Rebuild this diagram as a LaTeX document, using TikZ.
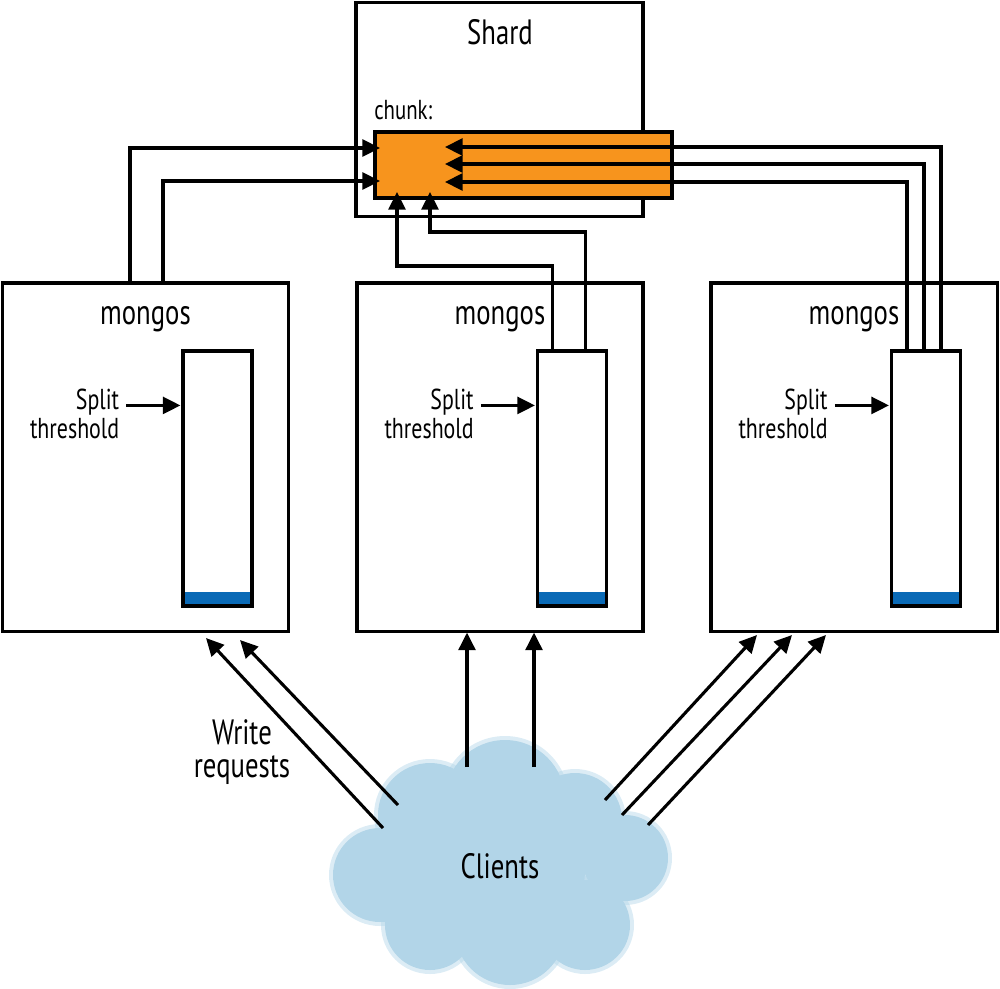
\documentclass[tikz,border=0pt]{standalone}
\usepackage{fontspec}
\setmainfont{PT Sans}[FakeStretch=0.76]
\usetikzlibrary{positioning,calc,arrows.meta}
\definecolor{chunkorange}{HTML}{F7941D}
\definecolor{fillblue}{HTML}{0A6AB6}
\definecolor{cloudblue}{HTML}{B2D5E8}
\tikzset{
	box/.style={draw, line width=2.2pt, fill=white, inner sep=0pt},
	conn/.style={line width=2.2pt},
	arr/.style={conn, -{Triangle[length=12.5pt,width=12pt]}},
	big/.style={font=\fontsize{25}{23}\selectfont, inner sep=0pt, align=center},
	small/.style={font=\fontsize{20.5}{20.5}\selectfont, inner sep=0pt, align=right},
}

\begin{document}
\begin{tikzpicture}[x=0.025cm, y=-0.025cm]
	\useasboundingbox (0,0) rectangle (1000,988);

	% shard with its chunk
	\node[box, minimum width=7.175cm, minimum height=5.35cm] (shard) at (499.5,109.5) {};
	\node[big] (shardlbl) at (500,32) {Shard};
	\node[small, anchor=west, font=\fontsize{19.5}{20}\selectfont] (chunklbl) at (374,110) {chunk:};
	\node[box, fill=chunkorange, minimum width=7.425cm, minimum height=1.65cm] (chunk) at (523.5,165) {};

	% mongos routers
	\foreach \i/\x in {1/145.5, 2/500, 3/854} {
		\node[box, minimum width=7.15cm, minimum height=8.7cm] (m\i) at (\x,457) {};
		\node[big] (mlbl\i) at (\x,319) {mongos};
		\node[box, minimum width=1.725cm, minimum height=6.375cm,
			path picture={\fill[fillblue] (path picture bounding box.south west) rectangle ([yshift=0.35cm]path picture bounding box.south east);}]
			(b\i) at (\x+72,478.5) {};
		\coordinate (st\i) at ($(b\i.north west)+(-1,56)$);
		\node[small, anchor=north east] (split\i) at ($(b\i.north west)+(-62,39)$) {Split\\threshold};
		\draw[arr] ([xshift=-1.35cm]st\i) -- (st\i);
	}

	% chunk updates from each mongos
	\draw[arr] (130,0 |- m1.north) |- (380,148);
	\draw[arr] (163,0 |- m1.north) |- (380,181);
	\draw[arr] ($(b2.north west)+(17,0)$) |- (397,266) -- (397,192);
	\draw[arr] ($(b2.north west)+(50,0)$) |- (430,232) -- (430,192);
	\draw[arr] ($(b3.north west)+(17,0)$) |- (445,182);
	\draw[arr] ($(b3.north west)+(34,0)$) |- (445,164);
	\draw[arr] ($(b3.north west)+(51,0)$) |- (445,147);

	% clients cloud
	\begin{scope}
		\foreach \cx/\cy/\r in {505/800/60, 430/815/52, 575/820/47, 380/875/47, 625/858/43,
			430/925/45, 510/930/55, 585/925/45, 505/870/80} {
			\fill[cloudblue, opacity=0.45] (\cx,\cy) circle[radius=(\r+4)*0.025cm];
		}
		\foreach \cx/\cy/\r in {505/800/60, 430/815/52, 575/820/47, 380/875/47, 625/858/43,
			430/925/45, 510/930/55, 585/925/45, 505/870/80} {
			\fill[cloudblue] (\cx,\cy) circle[radius=\r*0.025cm];
		}
	\end{scope}
	\node[big] (clients) at (500,866) {Clients};
	\node[big] (write) at (242,752) {Write\\requests};

	% write requests
	\coordinate (c1) at (383,828);
	\coordinate (c2) at (398,805);
	\coordinate (c3) at (467,767);
	\coordinate (c4) at (534,767);
	\coordinate (c5) at (605,800);
	\coordinate (c6) at (622,815);
	\coordinate (c7) at (648,825);
	\draw[arr] (c1) -- (206,638);
	\draw[arr] (c2) -- (240,640);
	\draw[arr] (c3) -- (c3 |- m2.south);
	\draw[arr] (c4) -- (c4 |- m2.south);
	\draw[arr] (c5) -- (757,635);
	\draw[arr] (c6) -- (792,635);
	\draw[arr] (c7) -- (826,635);
\end{tikzpicture}
\end{document}
